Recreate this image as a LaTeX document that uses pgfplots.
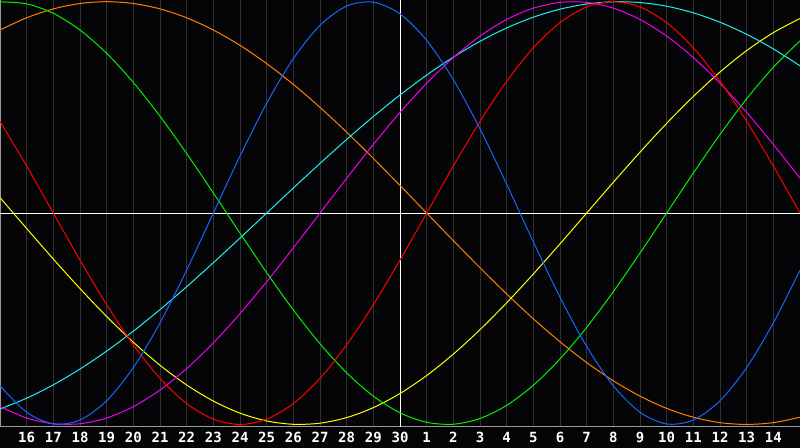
\documentclass[border=0pt]{standalone}
\usepackage{fontspec}
\setmonofont{DejaVu Sans Mono}
\usepackage{pgfplots}
\usepackage{pgfplotstable}
\pgfplotsset{compat=1.18}
\definecolor{bgc}{HTML}{050508}
\definecolor{gridc}{HTML}{303030}
\definecolor{framec}{HTML}{9A9A9A}
\definecolor{cblue}{HTML}{1466FF}
\definecolor{cred}{HTML}{FF0000}
\definecolor{cgreen}{HTML}{00F000}
\definecolor{cmag}{HTML}{F000F0}
\definecolor{cyel}{HTML}{FFFF00}
\definecolor{corange}{HTML}{FF8000}
\definecolor{ccyan}{HTML}{20F0F0}
\pgfplotstableread{
t blue red green magenta yellow orange cyan
0 -0.8170 0.4339 0.9989 -0.9158 0.0730 0.8660 -0.9267
1 -0.9423 0.2225 0.9898 -0.9694 -0.0730 0.9239 -0.8757
2 -0.9977 0 0.9450 -0.9966 -0.2174 0.9659 -0.8125
3 -0.9791 -0.2225 0.8660 -0.9966 -0.3572 0.9914 -0.7378
4 -0.8879 -0.4339 0.7557 -0.9694 -0.4894 1 -0.6528
5 -0.7308 -0.6235 0.6182 -0.9158 -0.6111 0.9914 -0.5586
6 -0.5196 -0.7818 0.4582 -0.8372 -0.7199 0.9659 -0.4566
7 -0.2698 -0.9010 0.2817 -0.7357 -0.8133 0.9239 -0.3482
8 0 -0.9749 0.0951 -0.6142 -0.8894 0.8660 -0.2349
9 0.2698 -1 -0.0951 -0.4759 -0.9465 0.7934 -0.1183
10 0.5196 -0.9749 -0.2817 -0.3247 -0.9834 0.7071 0
11 0.7308 -0.9010 -0.4582 -0.1646 -0.9993 0.6088 0.1183
12 0.8879 -0.7818 -0.6182 0 -0.9940 0.5 0.2349
13 0.9791 -0.6235 -0.7557 0.1646 -0.9675 0.3827 0.3482
14 0.9977 -0.4339 -0.8660 0.3247 -0.9204 0.2588 0.4566
15 0.9423 -0.2225 -0.9450 0.4759 -0.8536 0.1305 0.5586
16 0.8170 0 -0.9898 0.6142 -0.7686 0 0.6528
17 0.6310 0.2225 -0.9989 0.7357 -0.6672 -0.1305 0.7378
18 0.3984 0.4339 -0.9718 0.8372 -0.5517 -0.2588 0.8125
19 0.1362 0.6235 -0.9096 0.9158 -0.4245 -0.3827 0.8757
20 -0.1362 0.7818 -0.8146 0.9694 -0.2881 -0.5 0.9267
21 -0.3984 0.9010 -0.6901 0.9966 -0.1456 -0.6088 0.9646
22 -0.6310 0.9749 -0.5406 0.9966 0 -0.7071 0.9890
23 -0.8170 1 -0.3717 0.9694 0.1456 -0.7934 0.9996
24 -0.9423 0.9749 -0.1893 0.9158 0.2881 -0.8660 0.9960
25 -0.9977 0.9010 0 0.8372 0.4245 -0.9239 0.9786
26 -0.9791 0.7818 0.1893 0.7357 0.5517 -0.9659 0.9473
27 -0.8879 0.6235 0.3717 0.6142 0.6672 -0.9914 0.9028
28 -0.7308 0.4339 0.5406 0.4759 0.7686 -1 0.8456
29 -0.5196 0.2225 0.6901 0.3247 0.8536 -0.9914 0.7765
30 -0.2698 0 0.8146 0.1646 0.9204 -0.9659 0.6966
}\bio
\begin{document}
\begin{tikzpicture}
\path[use as bounding box] (0,0) rectangle (600pt,336pt);
\fill[bgc] (0,0) rectangle (600pt,336pt);
\begin{axis}[
  at={(0pt,15.75pt)}, anchor=south west,
  scale only axis, width=600pt, height=320.25pt,
  xmin=0, xmax=30, ymin=-1.012, ymax=1.008,
  axis line style={framec, line width=0.75pt},
  xtick={1,...,29},
  xticklabels={16,17,18,19,20,21,22,23,24,25,26,27,28,29,30,1,2,3,4,5,6,7,8,9,10,11,12,13,14},
  ytick=\empty,
  major tick length=0pt,
  xmajorgrids,
  major grid style={gridc, line width=0.75pt},
  extra x ticks={15}, extra x tick labels={},
  extra y ticks={0}, extra y tick labels={},
  extra tick style={grid=major, major grid style={white, line width=0.75pt}, major tick length=0pt},
  xticklabel style={anchor=base, yshift=-12pt, text=white, font=\ttfamily\bfseries\fontsize{10.5pt}{10.5pt}\selectfont},
  every axis plot/.append style={line width=0.75pt, smooth, no markers},
  clip=true,
]
\addplot[corange] table[x=t, y=orange] {\bio};
\addplot[cyel] table[x=t, y=yellow] {\bio};
\addplot[ccyan] table[x=t, y=cyan] {\bio};
\addplot[cmag] table[x=t, y=magenta] {\bio};
\addplot[cgreen] table[x=t, y=green] {\bio};
\addplot[cred] table[x=t, y=red] {\bio};
\addplot[cblue] table[x=t, y=blue] {\bio};
\end{axis}
\end{tikzpicture}
\end{document}
